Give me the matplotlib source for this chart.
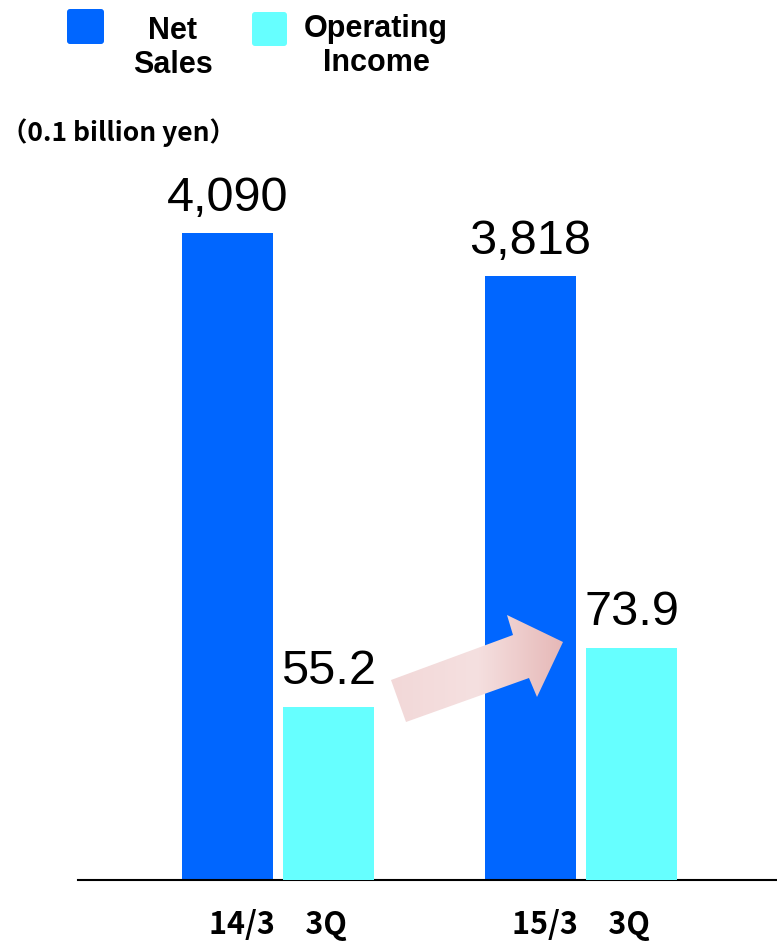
import numpy as np
import matplotlib.pyplot as plt
from matplotlib.patches import Polygon, FancyBboxPatch
from matplotlib.colors import LinearSegmentedColormap

# Data
periods = ['14/3\u30003Q', '15/3\u30003Q']
net_sales = [4090, 3818]
operating_income = [55.2, 73.9]
net_sales_labels = ['4,090', '3,818']
income_labels = ['55.2', '73.9']

blue = '#0066FF'
cyan = '#66FFFF'

W, H = 777, 949
fig = plt.figure(figsize=(W / 100, H / 100), dpi=100)

# main axes: bottom line at y=880px, from x=78px to right edge
ax = fig.add_axes([78 / W, (H - 880) / H, 699 / W, 730 / H])
ax2 = ax.twinx()

x = np.arange(len(periods))
bw = 0.30
off = 0.167
ax.bar(x - off, net_sales, bw, color=blue, zorder=2)
ax2.bar(x + off, operating_income, bw, color=cyan, zorder=2)

ax.set_xlim(-0.66, 1.647)
ax.set_ylim(0, 4615)
ax2.set_ylim(0, 232.5)

for a in (ax, ax2):
    for s in ['top', 'right', 'left']:
        a.spines[s].set_visible(False)
    a.set_yticks([])
ax.spines['bottom'].set_linewidth(1.5)
ax2.spines['bottom'].set_visible(False)

ax.set_xticks(x)
ax.set_xticklabels(periods, fontsize=22, fontweight='bold',
                   family=['Noto Sans CJK JP', 'DejaVu Sans'])
ax.tick_params(axis='x', length=0, pad=21)

for xi, v, lab in zip(x, net_sales, net_sales_labels):
    ax.annotate(lab, (xi - off, v), xytext=(0, 9), textcoords='offset points',
                ha='center', va='bottom', fontsize=35, family='Liberation Sans')
for xi, v, lab in zip(x, operating_income, income_labels):
    ax2.annotate(lab, (xi + off, v), xytext=(0, 9), textcoords='offset points',
                 ha='center', va='bottom', fontsize=35, family='Liberation Sans')

# overlay in pixel units for legend, unit note and arrow
ov = fig.add_axes([0, 0, 1, 1], zorder=5)
ov.set_xlim(0, W)
ov.set_ylim(H, 0)
ov.axis('off')

ov.add_patch(FancyBboxPatch((67, 9), 37, 35, boxstyle='round,pad=0,rounding_size=3',
                            facecolor=blue, edgecolor='none'))
ov.add_patch(FancyBboxPatch((252, 12), 35, 34, boxstyle='round,pad=0,rounding_size=3',
                            facecolor=cyan, edgecolor='none'))
ov.text(173, 48, 'Net\nSales', ha='center', va='center', fontsize=22,
        fontweight='bold', family='Liberation Sans', linespacing=1.2)
ov.text(376, 46, 'Operating\nIncome', ha='center', va='center', fontsize=22,
        fontweight='bold', family='Liberation Sans', linespacing=1.2)
ov.text(1, 133, '\uff080.1 billion yen\uff09', ha='left', va='center', fontsize=19,
        fontweight='bold', family=['Noto Sans CJK JP', 'DejaVu Sans'])

# gradient arrow
pts = np.array([[391, 680], [513, 635], [507, 615], [563, 642],
                [537, 697], [529, 678], [406, 722]])
poly = Polygon(pts, closed=True, facecolor='none', edgecolor='none')
ov.add_patch(poly)
cmap = LinearSegmentedColormap.from_list('arr', ['#F2D8D8', '#F5E0E0', '#E6B8B7'])
grad = np.linspace(0, 1, 256).reshape(1, -1)
im = ov.imshow(grad, extent=(391, 563, 722, 615), cmap=cmap, aspect='auto', zorder=6)
im.set_clip_path(poly)
ov.set_xlim(0, W)
ov.set_ylim(H, 0)

fig.savefig('out.png', dpi=100)
